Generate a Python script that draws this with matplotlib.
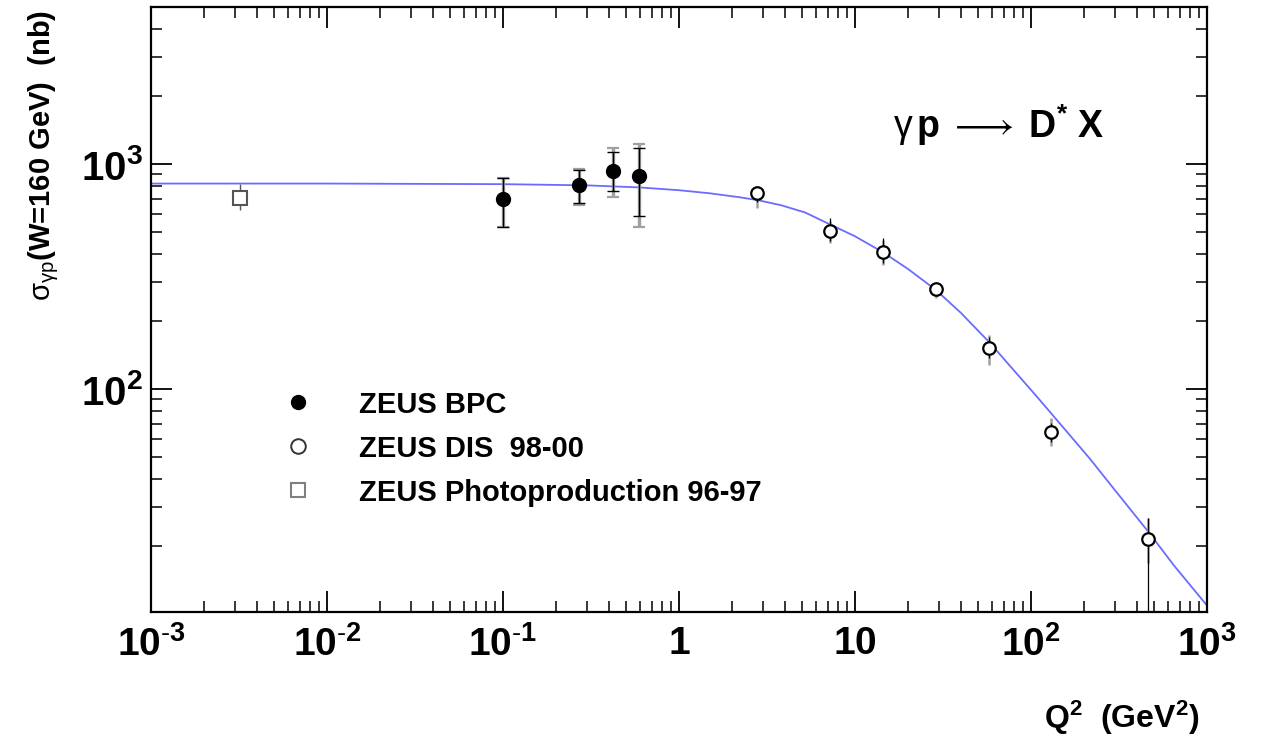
import numpy as np
import matplotlib
matplotlib.use("Agg")
import matplotlib.pyplot as plt
from matplotlib.lines import Line2D
from matplotlib.font_manager import FontProperties
from matplotlib.ticker import LogLocator, NullFormatter, FixedLocator, FixedFormatter

plt.rcParams["font.family"] = ["Liberation Sans", "DejaVu Sans"]
plt.rcParams["mathtext.fontset"] = "custom"
plt.rcParams["mathtext.rm"] = "Liberation Sans"
plt.rcParams["mathtext.bf"] = "Liberation Sans:bold"
plt.rcParams["mathtext.it"] = "Liberation Sans:italic"
plt.rcParams["mathtext.sf"] = "Liberation Sans"
plt.rcParams["mathtext.fallback"] = "stixsans"

# ZEUS BPC (filled circles): value, inner (black) and outer (grey) error ends
bpc_q2 = [0.10, 0.27, 0.42, 0.59]
bpc_sig = [700, 810, 930, 885]
bpc_blk_lo = [525, 671, 760, 587]
bpc_blk_hi = [867, 940, 1131, 1178]
bpc_gry_lo = [525, 660, 714, 525]
bpc_gry_hi = [867, 950, 1178, 1227]

# ZEUS DIS 98-00 (open circles)
dis_q2 = [2.77, 7.2, 14.4, 28.8, 57.7, 130, 462]
dis_sig = [743, 504, 406, 278, 152, 64.4, 21.5]
dis_blk_lo = [680, 455, 365, 262, 138, 58, 5]
dis_blk_hi = [800, 575, 469, 296, 170, 71, 26.7]
dis_gry_lo = [638, 446, 356, 254, 128, 55.8, 16.9]
dis_gry_hi = [790, 560, 460, 299, 174, 74, 26.7]

# ZEUS photoproduction 96-97 (open square)
php_q2 = [0.0032]
php_sig = [710]
php_lo = [625]
php_hi = [818]

# fitted curve
fit_q2 = [1e-3, 1e-2, 0.1, 0.3, 0.6, 1.0, 1.5, 2.2, 2.8, 3.8, 5.2, 7.2, 10, 14.4,
          20, 28.8, 40, 57.7, 80, 110, 150, 216, 300, 462, 650, 1000]
fit_sig = [820, 820, 815, 805, 788, 766, 742, 713, 692, 657, 610, 540, 478, 406,
           342, 276, 218, 162, 121, 91, 68.5, 49, 35.5, 23.3, 16.4, 10.9]

x_ticks = [1e-3, 1e-2, 1e-1, 1, 10, 1e2, 1e3]
x_ticklabels = [r"$\mathbf{10^{\text{-}3}}$", r"$\mathbf{10^{\text{-}2}}$",
                r"$\mathbf{10^{\text{-}1}}$", r"$\mathbf{1}$", r"$\mathbf{10}$",
                r"$\mathbf{10^{2}}$", r"$\mathbf{10^{3}}$"]
y_ticks = [1e2, 1e3]
y_ticklabels = [r"$\mathbf{10^{2}}$", r"$\mathbf{10^{3}}$"]

legend_labels = ["ZEUS BPC", "ZEUS DIS  98-00", "ZEUS Photoproduction 96-97"]

W, H = 1261, 743
fig = plt.figure(figsize=(W / 100, H / 100), dpi=100)
ax = fig.add_axes([151 / W, 1 - 612 / H, (1207 - 151) / W, (612 - 7) / H])
ax.set_xscale("log"); ax.set_yscale("log")
ax.set_xlim(1e-3, 1e3); ax.set_ylim(10.2, 5000)


def _err(x, y, lo, hi, **kw):
    y = np.asarray(y, float)
    yerr = [y - np.asarray(lo, float), np.asarray(hi, float) - y]
    ax.errorbar(x, y, yerr=yerr, fmt="none", **kw)


ax.plot(fit_q2, fit_sig, color="#6a6cff", lw=1.3, zorder=2)

# grey (outer) then black (inner) bars
_err(bpc_q2, bpc_sig, bpc_gry_lo, bpc_gry_hi, ecolor="#a0a0a0", elinewidth=2.4,
     capsize=4.5, capthick=1.6, zorder=3)
_err(bpc_q2, bpc_sig, bpc_blk_lo, bpc_blk_hi, ecolor="black", elinewidth=1.0,
     capsize=4.5, capthick=1.0, zorder=4)
_err(dis_q2, dis_sig, dis_gry_lo, dis_gry_hi, ecolor="#a0a0a0", elinewidth=1.8,
     capsize=0, zorder=3)
_err(dis_q2, dis_sig, dis_blk_lo, dis_blk_hi, ecolor="black", elinewidth=0.9,
     capsize=0, zorder=4)
_err(php_q2, php_sig, php_lo, php_hi, ecolor="#555555", elinewidth=1.0,
     capsize=0, zorder=3)

ax.plot(bpc_q2, bpc_sig, "o", ms=10, mfc="black", mec="black", zorder=5)
ax.plot(dis_q2, dis_sig, "o", ms=9, mfc="white", mec="black", mew=1.6, zorder=5)
ax.plot(php_q2, php_sig, "s", ms=10.5, mfc="white", mec="#555555", mew=1.5, zorder=5)

# axes, ticks
for sp in ax.spines.values():
    sp.set_linewidth(1.6)
ax.xaxis.set_major_locator(FixedLocator(x_ticks))
ax.xaxis.set_major_formatter(FixedFormatter(x_ticklabels))
ax.yaxis.set_major_locator(FixedLocator(y_ticks))
ax.yaxis.set_major_formatter(FixedFormatter(y_ticklabels))
ax.xaxis.set_minor_locator(LogLocator(base=10, subs=np.arange(2, 10), numticks=100))
ax.yaxis.set_minor_locator(LogLocator(base=10, subs=np.arange(2, 10), numticks=100))
ax.xaxis.set_minor_formatter(NullFormatter())
ax.yaxis.set_minor_formatter(NullFormatter())
ax.tick_params(which="both", direction="in", top=True, right=True)
ax.tick_params(which="major", length=15, width=1.3)
ax.tick_params(which="minor", length=8, width=1.1)
ax.tick_params(axis="x", which="major", labelsize=28, pad=10)
ax.tick_params(axis="y", which="major", labelsize=29, pad=6)

# legend
bold = FontProperties(family="Liberation Sans", weight="bold", size=21)
handles = [Line2D([], [], ls="none", marker="o", ms=10, mfc="black", mec="black"),
           Line2D([], [], ls="none", marker="o", ms=10.5, mfc="white", mec="#333333", mew=1.4),
           Line2D([], [], ls="none", marker="s", ms=10.5, mfc="white", mec="#808080", mew=1.5)]
ax.legend(handles, legend_labels, loc="upper left", bbox_to_anchor=(0.1255, 0.366),
          frameon=False, prop=bold, handlelength=1.0, handletextpad=1.6,
          labelspacing=0.55, borderpad=0, borderaxespad=0)

# texts
ax.text((893 - 151) / 1056, (612 - 125) / 605,
        r"$\mathrm{\gamma}\,\mathbf{p}\;\longrightarrow\;\mathbf{D^{*}}\ \mathbf{X}$",
        transform=ax.transAxes, ha="left", va="center", fontsize=27)
fig.text(44 / W, 1 - 155 / H, r"$\mathrm{\sigma_{\gamma p}}$(W=160 GeV)  (nb)",
         rotation=90, ha="center", va="center", fontsize=21, fontweight="bold")
fig.text(1200 / W, 1 - 718 / H, r"Q$^{\mathbf{2}}$  (GeV$^{\mathbf{2}}$)",
         ha="right", va="center", fontsize=23, fontweight="bold")

fig.savefig("out.png", dpi=100, facecolor="white")
